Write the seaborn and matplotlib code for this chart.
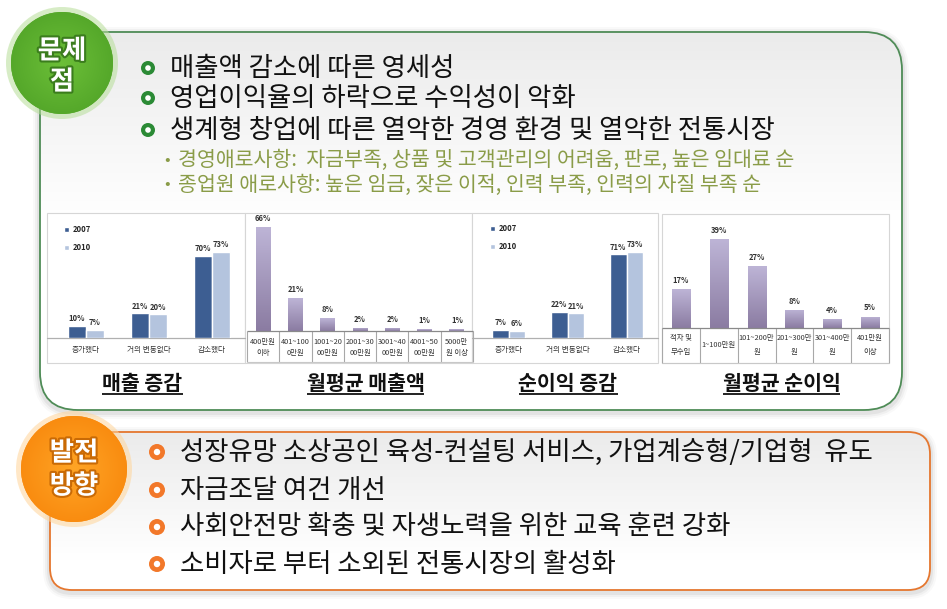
import numpy as np
import pandas as pd
import matplotlib
matplotlib.use("Agg")
import matplotlib.pyplot as plt
import seaborn as sns
from matplotlib.patches import FancyBboxPatch, Circle, Rectangle
from matplotlib.colors import LinearSegmentedColormap
import matplotlib.patheffects as pe
import matplotlib.transforms as mtrans

# ---------------- data ----------------
problem_title = ["문제", "점"]
problem_items = ["매출액 감소에 따른 영세성",
                 "영업이익율의 하락으로 수익성이 악화",
                 "생계형 창업에 따른 열악한 경영 환경 및 열악한 전통시장"]
sub_items = ["경영애로사항:  자금부족, 상품 및 고객관리의 어려움, 판로, 높은 임대료 순",
             "종업원 애로사항: 높은 임금, 잦은 이적, 인력 부족, 인력의 자질 부족 순"]
direction_title = ["발전", "방향"]
direction_items = ["성장유망 소상공인 육성-컨설팅 서비스, 가업계승형/기업형  유도",
                   "자금조달 여건 개선",
                   "사회안전망 확충 및 자생노력을 위한 교육 훈련 강화",
                   "소비자로 부터 소외된 전통시장의 활성화"]

change_cats = ["증가했다", "거의 변동없다", "감소했다"]
years = ["2007", "2010"]
sales_change_2007 = [10, 21, 70]
sales_change_2010 = [7, 20, 73]
profit_change_2007 = [7, 22, 71]
profit_change_2010 = [6, 21, 73]
sales_cats = ["400만원\n이하", "401~100\n0만원", "1001~20\n00만원", "2001~30\n00만원",
              "3001~40\n00만원", "4001~50\n00만원", "5000만\n원 이상"]
sales_vals = [66, 21, 8, 2, 2, 1, 1]
profit_cats = ["적자 및\n무수입", "1~100만원", "101~200만\n원", "201~300만\n원",
               "301~400만\n원", "401만원\n이상"]
profit_vals = [17, 39, 27, 8, 4, 5]
captions = ["매출 증감", "월평균 매출액", "순이익 증감", "월평균 순이익"]

# ---------------- style ----------------
sns.set_theme(style="white")
plt.rcParams['font.family'] = ['Noto Sans CJK KR', 'DejaVu Sans']

C07, C10 = '#3d5e92', '#b4c4de'
PURPLE_TOP, PURPLE_BOT = '#bdb4d6', '#8b7ca2'

W, H = 947, 609
fig = plt.figure(figsize=(W / 100, H / 100), dpi=100)
fig.patch.set_facecolor('white')
bg = fig.add_axes([0, 0, 1, 1])
bg.set_xlim(0, W); bg.set_ylim(H, 0); bg.axis('off')


def px_axes(x0, y0, x1, y1):
    ax = fig.add_axes([x0 / W, 1 - y1 / H, (x1 - x0) / W, (y1 - y0) / H])
    ax.set_facecolor('none')
    return ax


def grad_fill(ax, ext, c0, c1, clip, z):
    cmap = LinearSegmentedColormap.from_list('g', [c0, c1])
    im = ax.imshow(np.linspace(0, 1, 256).reshape(-1, 1), extent=ext, cmap=cmap,
                   aspect='auto', origin='upper', zorder=z, interpolation='bilinear')
    im.set_clip_path(clip)
    return im


def big_box(x, y, w, h, r, ec, grad_to):
    for k, a in [(7, 0.025), (5, 0.035), (3, 0.05)]:
        bg.add_patch(FancyBboxPatch((x - k, y - k + 2), w + 2 * k, h + 2 * k,
                                    boxstyle=f"round,pad=0,rounding_size={r + k}",
                                    fc='#000000', ec='none', alpha=a, zorder=0.5))
    p = FancyBboxPatch((x, y), w, h, boxstyle=f"round,pad=0,rounding_size={r}",
                       fc='white', ec='none', zorder=1)
    bg.add_patch(p)
    grad_fill(bg, [x, x + w, grad_to, y], '#ebebeb', '#ffffff', p, 1.2)
    bg.add_patch(FancyBboxPatch((x, y), w, h, boxstyle=f"round,pad=0,rounding_size={r}",
                                fc='none', ec=ec, lw=1.3, zorder=2))


def badge(cx, cy, r, c_in, c_out, glow, lines, stroke):
    bg.add_patch(Circle((cx, cy), r + 5, fc=glow, ec='none', alpha=0.55, zorder=5))
    circ = Circle((cx, cy), r, fc=c_out, ec='none', zorder=5.1)
    bg.add_patch(circ)
    n = 200
    yy, xx = np.mgrid[-1:1:n * 1j, -1:1:n * 1j]
    d = np.clip(np.sqrt(xx ** 2 + yy ** 2), 0, 1)
    cmap = LinearSegmentedColormap.from_list('r', [c_in, c_out])
    im = bg.imshow(d, extent=[cx - r, cx + r, cy + r, cy - r], cmap=cmap, vmin=0, vmax=1,
                   zorder=5.2, aspect='auto')
    im.set_clip_path(circ)
    for t, ty in lines:
        bg.text(cx, ty, t, ha='center', va='center', fontsize=19, fontweight='bold',
                color='white', zorder=6,
                path_effects=[pe.withStroke(linewidth=3, foreground=stroke)])


def ring(cx, cy, r_out, r_in, color):
    bg.add_patch(Circle((cx, cy), r_out, fc=color, ec='none', zorder=4))
    bg.add_patch(Circle((cx, cy), r_in, fc='white', ec='none', zorder=4.1))


# ---------------- boxes ----------------
big_box(40, 32, 862, 378, 38, '#4f8c57', 220)
big_box(50, 432, 880, 158, 22, '#e5772f', 560)

# panels for charts
for (x0, y0, x1, y1) in [(47, 213, 245, 363), (245, 213, 472, 363),
                         (472, 213, 658, 363), (662, 214, 889, 363)]:
    bg.add_patch(Rectangle((x0, y0), x1 - x0, y1 - y0, fc='white', ec='#d6d6d6',
                           lw=0.8, zorder=3))
# baselines of grouped charts
bg.plot([47, 245], [338, 338], color='#b0b0b0', lw=0.9, zorder=3.5)
bg.plot([472, 658], [338, 338], color='#b0b0b0', lw=0.9, zorder=3.5)

# badges
badge(62, 63, 51, '#6cbf38', '#55a82a', '#b6de98',
      [(problem_title[0], 51), (problem_title[1], 82)], '#3b7d1d')
badge(74, 469, 53, '#ffa526', '#f98c10', '#ffd59a',
      [(direction_title[0], 453), (direction_title[1], 486)], '#c96a05')

# problem bullets
for y, t in zip([68, 98, 130], problem_items):
    ring(148, y, 7, 2.8, '#2b8a35')
    bg.text(170, y, t, ha='left', va='center', fontsize=19, color='#111111', zorder=6)
for y, t in zip([160, 185], sub_items):
    bg.text(164, y, '•', ha='left', va='center', fontsize=12, color='#8a9c48', zorder=6)
    bg.text(178, y, t, ha='left', va='center', fontsize=14.8, color='#8a9c48', zorder=6)

# direction bullets
for y, t in zip([452, 490, 527, 564], direction_items):
    ring(157, y, 8, 3.2, '#f2782a')
    bg.text(180, y, t, ha='left', va='center', fontsize=19, color='#111111', zorder=6)

# captions
cap_texts = []
for x, t in zip([142.5, 365.5, 568, 781.5], captions):
    cap_texts.append(bg.text(x, 383, t, ha='center', va='center', fontsize=14.8,
                             fontweight='bold', color='#111111', zorder=6))


# ---------------- charts ----------------
def grouped_chart(rect, v07, v10, ymax, leg_xy):
    ax = px_axes(*rect)
    df = pd.DataFrame({'cat': change_cats * 2,
                       'year': [years[0]] * 3 + [years[1]] * 3,
                       'val': v07 + v10})
    sns.barplot(data=df, x='cat', y='val', hue='year', palette=[C07, C10], width=0.57,
                saturation=1, ax=ax, errorbar=None)
    ax.set_xlim(-0.5, 2.5); ax.set_ylim(0, ymax)
    for c in ax.containers:
        ax.bar_label(c, fmt='{:.0f}%', padding=2, fontsize=5.5, fontweight='bold',
                     color='#333333')
    handles, labels = ax.get_legend_handles_labels()
    ax.legend(handles, labels, loc='upper left', bbox_to_anchor=leg_xy, frameon=False,
              prop={'size': 5.5, 'weight': 'bold'}, handlelength=0.7, handleheight=0.7,
              handletextpad=0.5, labelspacing=1.2, borderaxespad=0, borderpad=0)
    ax.set_xlabel(''); ax.set_ylabel(''); ax.set_yticks([])
    ax.tick_params(axis='x', length=0, labelsize=5.5, pad=6, colors='#333333')
    for s in ax.spines.values():
        s.set_visible(False)
    return ax


def single_chart(rect, cats, vals, ymax, bw, table_bottom, lsp, pad):
    ax = px_axes(*rect)
    df = pd.DataFrame({'cat': cats, 'val': vals})
    sns.barplot(data=df, x='cat', y='val', color=PURPLE_BOT, width=bw, saturation=1,
                ax=ax, errorbar=None)
    cmap = LinearSegmentedColormap.from_list('b', [PURPLE_TOP, PURPLE_BOT])
    for p in list(ax.patches):
        x, y, w, h = p.get_x(), p.get_y(), p.get_width(), p.get_height()
        im = ax.imshow(np.linspace(0, 1, 64).reshape(-1, 1), extent=[x, x + w, y, y + h],
                       cmap=cmap, aspect='auto', origin='upper', zorder=p.get_zorder() + 0.1)
        im.set_clip_path(p)
    n = len(cats)
    ax.set_xlim(-0.5, n - 0.5); ax.set_ylim(0, ymax)
    ax.bar_label(ax.containers[0], fmt='{:.0f}%', padding=3, fontsize=5.5,
                 fontweight='bold', color='#333333')
    tr = mtrans.blended_transform_factory(ax.transData, ax.transAxes)
    depth = -(table_bottom - rect[3]) / (rect[3] - rect[1])
    ax.vlines(np.arange(n + 1) - 0.5, depth, 0, transform=tr, colors='#a8a8a8', lw=0.8,
              clip_on=False)
    ax.hlines([0], -0.5, n - 0.5, transform=tr, colors='#8a8a8a', lw=0.9, clip_on=False)
    ax.hlines([depth], -0.5, n - 0.5, transform=tr, colors='#c8c8c8', lw=0.8, clip_on=False)
    ax.set_xlabel(''); ax.set_ylabel(''); ax.set_yticks([])
    ax.tick_params(axis='x', length=0, labelsize=5.3, pad=pad, colors='#333333')
    for lab in ax.get_xticklabels():
        lab.set_va('center')
        lab.set_linespacing(lsp)
    for s in ax.spines.values():
        s.set_visible(False)
    return ax


grouped_chart((54.5, 238, 243.5, 338), sales_change_2007, sales_change_2010, 85, (0.05, 1.13))
single_chart((247, 221, 473, 331), sales_cats, sales_vals, 70, 0.46, 362, 1.5, 12)
grouped_chart((479, 238, 656, 338), profit_change_2007, profit_change_2010, 85, (0.06, 1.14))
single_chart((662, 225.4, 889, 328), profit_cats, profit_vals, 45, 0.48, 363, 2.0, 12.5)

# underline captions
fig.canvas.draw()
rend = fig.canvas.get_renderer()
for t in cap_texts:
    bb = t.get_window_extent(rend)
    yb = H - bb.y0
    bg.plot([bb.x0, bb.x1], [yb, yb], color='#111111', lw=1.3, solid_capstyle='butt', zorder=6)

bg.set_xlim(0, W); bg.set_ylim(H, 0)
fig.savefig('out.png', dpi=100, facecolor='white')
